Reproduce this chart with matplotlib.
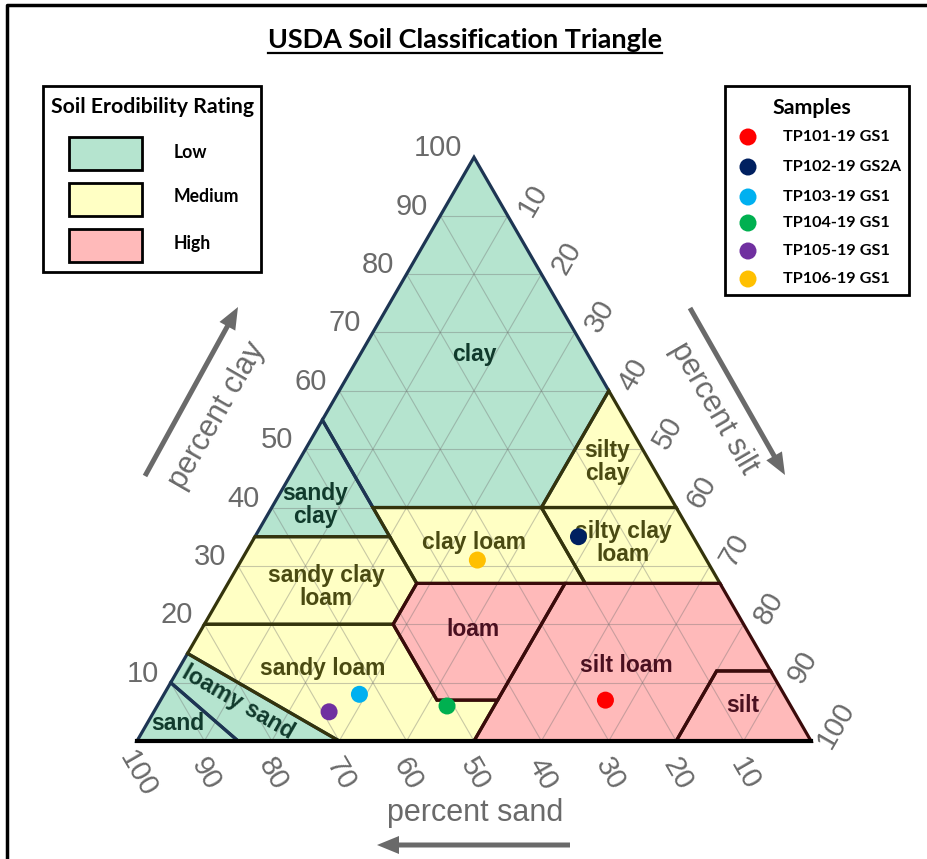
import matplotlib
matplotlib.use("Agg")
import matplotlib.pyplot as plt
from matplotlib.patches import Polygon, Rectangle, FancyArrow

# ---- soil texture classes: vertices as (sand, silt, clay) percent ----
clay_poly = [(45, 0, 55), (45, 15, 40), (20, 40, 40), (0, 40, 60), (0, 0, 100)]
sandy_clay = [(65, 0, 35), (45, 20, 35), (45, 0, 55)]
silty_clay = [(20, 40, 40), (0, 60, 40), (0, 40, 60)]
clay_loam = [(45, 28, 27), (20, 53, 27), (20, 40, 40), (45, 15, 40)]
silty_clay_loam = [(20, 53, 27), (0, 73, 27), (0, 60, 40), (20, 40, 40)]
sandy_clay_loam = [(80, 0, 20), (52, 28, 20), (45, 28, 27), (45, 20, 35), (65, 0, 35)]
loam = [(43, 50, 7), (52, 41, 7), (52, 28, 20), (45, 28, 27), (23, 50, 27)]
silt_loam = [(50, 50, 0), (20, 80, 0), (8, 80, 12), (0, 88, 12), (0, 73, 27), (23, 50, 27), (43, 50, 7)]
silt = [(20, 80, 0), (0, 100, 0), (0, 88, 12), (8, 80, 12)]
sandy_loam = [(70, 30, 0), (50, 50, 0), (43, 50, 7), (52, 41, 7), (52, 28, 20), (80, 0, 20), (85, 0, 15)]
loamy_sand = [(85, 15, 0), (70, 30, 0), (85, 0, 15), (90, 0, 10)]
sand = [(100, 0, 0), (85, 15, 0), (90, 0, 10)]

# class name -> (polygon, erodibility rating)
classes = [
    ("clay", clay_poly, "Low"),
    ("sandy clay", sandy_clay, "Low"),
    ("loamy sand", loamy_sand, "Low"),
    ("sand", sand, "Low"),
    ("silty clay", silty_clay, "Medium"),
    ("clay loam", clay_loam, "Medium"),
    ("silty clay loam", silty_clay_loam, "Medium"),
    ("sandy clay loam", sandy_clay_loam, "Medium"),
    ("sandy loam", sandy_loam, "Medium"),
    ("loam", loam, "High"),
    ("silt loam", silt_loam, "High"),
    ("silt", silt, "High"),
]

ratings = ["Low", "Medium", "High"]
rating_fill = {"Low": "#b5e4cf", "Medium": "#ffffc4", "High": "#ffbaba"}
rating_edge = {"Low": "#1d3553", "Medium": "#34340c", "High": "#3a0b0b"}
rating_text = {"Low": "#103a2c", "Medium": "#4a4a12", "High": "#4a1020"}

# ---- samples ----
sample_names = ["TP101-19 GS1", "TP102-19 GS2A", "TP103-19 GS1",
                "TP104-19 GS1", "TP105-19 GS1", "TP106-19 GS1"]
sample_sand = [27, 17, 63, 51, 69, 34]
sample_silt = [66, 48, 29, 43, 26, 35]
sample_clay = [7, 35, 8, 6, 5, 31]
sample_colors = ["#ff0000", "#002060", "#00b0f0", "#00b050", "#7030a0", "#ffc000"]

tick_values = [10, 20, 30, 40, 50, 60, 70, 80, 90, 100]

# ---- triangle geometry (figure pixel space) ----
X0, Y0, W = 137.0, 741.0, 674.0
H = W * 3 ** 0.5 / 2


def xy(sa, si, cl):
    return X0 + W * (si + cl / 2.0) / 100.0, Y0 - H * cl / 100.0


fig = plt.figure(figsize=(9.27, 8.59), dpi=100)
ax = fig.add_axes([0, 0, 1, 1])
ax.set_xlim(0, 927)
ax.set_ylim(859, 0)
ax.axis("off")

TICK_FONT = "Liberation Sans"
BOLD_FONT = ["Liberation Sans Narrow", "Lato", "DejaVu Sans"]


def fit_width(txt, width):
    """Scale a text's font size so that it spans `width` pixels."""
    fig.canvas.draw()
    bb = txt.get_window_extent()
    txt.set_fontsize(txt.get_fontsize() * width / bb.width)
    return txt.get_fontsize()


# outer frame
ax.plot([7, 7, 940], [900, 5, 5], color="black", lw=2.5, clip_on=False)

# region fills
for name, poly, r in classes:
    pts = [xy(*p) for p in poly]
    ax.add_patch(Polygon(pts, closed=True, facecolor=rating_fill[r],
                         edgecolor="none", zorder=1))

# 10 % grid lines
grid_kw = dict(color="#707070", lw=0.8, alpha=0.38, zorder=2)
for k in range(10, 100, 10):
    for a, b in [((100 - k, 0, k), (0, 100 - k, k)),
                 ((100 - k, k, 0), (0, k, 100 - k)),
                 ((k, 100 - k, 0), (k, 0, 100 - k))]:
        (xa, ya), (xb, yb) = xy(*a), xy(*b)
        ax.plot([xa, xb], [ya, yb], **grid_kw)

# region outlines
for name, poly, r in classes:
    pts = [xy(*p) for p in poly]
    ax.add_patch(Polygon(pts, closed=True, facecolor="none",
                         edgecolor=rating_edge[r], lw=2.3, joinstyle="miter",
                         zorder=3))
# base line
(bx0, by0), (bx1, by1) = xy(100, 0, 0), xy(0, 100, 0)
ax.plot([bx0, bx1], [by0, by1], color="black", lw=3, zorder=4,
        solid_capstyle="projecting")

# region labels
label_pos = {
    "clay": (474, 355, "clay", 0),
    "sandy clay": (315, 505, "sandy\nclay", 0),
    "silty clay": (607, 462, "silty\nclay", 0),
    "clay loam": (474, 542, "clay loam", 0),
    "silty clay loam": (623, 543, "silty clay\nloam", 0),
    "sandy clay loam": (326, 587, "sandy clay\nloam", 0),
    "loam": (473, 630, "loam", 0),
    "sandy loam": (323, 669, "sandy loam", 0),
    "silt loam": (626, 665, "silt loam", 0),
    "silt": (743, 706, "silt", 0),
    "loamy sand": (238, 702, "loamy sand", -30),
    "sand": (178, 724, "sand", 0),
}
for name, poly, r in classes:
    x, y, txt, rot = label_pos[name]
    ax.text(x, y, txt, ha="center", va="center", rotation=rot,
            rotation_mode="anchor", fontsize=16.5, fontweight="bold",
            family="Liberation Sans", color=rating_text[r],
            linespacing=1.0, zorder=6)

# samples
sx, sy = zip(*[xy(a, b, c) for a, b, c in zip(sample_sand, sample_silt, sample_clay)])
ax.scatter(sx, sy, s=150, c=sample_colors, edgecolors="none", zorder=7)

# tick labels
tick_color = "#6a6a6a"
for v in tick_values:
    # clay (left edge)
    px, py = xy(100 - v, 0, v)
    ax.text(px - 12, py - 9, str(v), ha="right", va="center", fontsize=21,
            family=TICK_FONT, color=tick_color)
    # silt (right edge)
    px, py = xy(0, v, 100 - v)
    ax.text(px + 25, py - 16, str(v), ha="center", va="center", rotation=60,
            fontsize=21, family=TICK_FONT, color=tick_color)
    # sand (base)
    px, py = xy(v, 100 - v, 0)
    ax.text(px + 1, py + 33, str(v), ha="center", va="center", rotation=-60,
            fontsize=21, family=TICK_FONT, color=tick_color)

# axis titles
ax.text(217, 415, "percent clay", rotation=60, ha="center", va="center",
        fontsize=22, family=TICK_FONT, color=tick_color)
ax.text(714, 408, "percent silt", rotation=-60, ha="center", va="center",
        fontsize=22, family=TICK_FONT, color=tick_color)
ax.text(475, 813, "percent sand", ha="center", va="center",
        fontsize=22, family=TICK_FONT, color=tick_color)

# direction arrows
arrow_kw = dict(width=5, head_width=18, head_length=22, length_includes_head=True,
                color=tick_color, lw=0, zorder=5)
ax.add_patch(FancyArrow(145, 476, 238 - 145, 307 - 476, **arrow_kw))
ax.add_patch(FancyArrow(690, 308, 785 - 690, 475 - 308, **arrow_kw))
ax.add_patch(FancyArrow(570, 845, 377 - 570, 0, **arrow_kw))

# title with underline
title = ax.text(465, 40, "USDA Soil Classification Triangle", ha="center",
                va="center", fontsize=18, fontweight="bold", family=BOLD_FONT,
                color="black")
fit_width(title, 396)
fig.canvas.draw()
bb = title.get_window_extent().transformed(ax.transData.inverted())
ax.plot([bb.x0, bb.x1], [53, 53], color="black", lw=1.6)

# erodibility legend
ax.add_patch(Rectangle((43, 86), 218, 186, facecolor="white", edgecolor="black",
                       lw=2, zorder=8))
leg_title = ax.text(153, 107, "Soil Erodibility Rating", ha="center", va="center",
                    fontsize=13, fontweight="bold", family=BOLD_FONT, zorder=9)
fit_width(leg_title, 203)
sw_y = [137, 183, 229]
lab_y = [153, 197, 244]
rating_texts = []
for r, y0, ly in zip(ratings, sw_y, lab_y):
    ax.add_patch(Rectangle((69, y0), 73, 33, facecolor=rating_fill[r],
                           edgecolor="black", lw=2, zorder=9))
    rating_texts.append(ax.text(174, ly, r, ha="left", va="center", fontsize=11,
                                fontweight="bold", family=BOLD_FONT, zorder=9))
fs = fit_width(rating_texts[1], 65)
for t in rating_texts:
    t.set_fontsize(fs)

# samples legend
ax.add_patch(Rectangle((725, 86), 184, 209, facecolor="white", edgecolor="black",
                       lw=2, zorder=8))
samp_title = ax.text(812, 108, "Samples", ha="center", va="center", fontsize=13,
                     fontweight="bold", family=BOLD_FONT, zorder=9)
fit_width(samp_title, 79)
leg_y = [137, 167, 197, 223, 251, 279]
ax.scatter([748] * len(leg_y), leg_y, s=150, c=sample_colors, edgecolors="none",
           zorder=9)
name_texts = [ax.text(783, y, name, ha="left", va="center", fontsize=11,
                      fontweight="bold", family=BOLD_FONT, zorder=9)
              for name, y in zip(sample_names, leg_y)]
fs = fit_width(name_texts[1], 119)
for t in name_texts:
    t.set_fontsize(fs)

fig.savefig("out.png", dpi=100)
